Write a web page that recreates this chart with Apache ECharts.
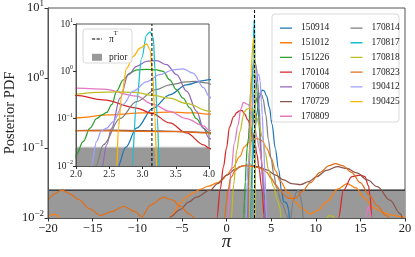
<!DOCTYPE html>
<html><head><meta charset="utf-8">
<script src="https://cdn.jsdelivr.net/npm/echarts@6/dist/echarts.min.js"></script>
<style>html,body{margin:0;padding:0;background:#fff}#c{width:415px;height:257px}</style>
</head><body><div id="c"></div>
<script>
// ---- data ----
const EVENTS = ['150914','151012','151226','170104','170608','170729','170809','170814','170817','170818','170823','190412','190425'];
const COLORS = ['#1f77b4','#ff7f0e','#2ca02c','#d62728','#9467bd','#8c564b','#e377c2','#7f7f7f','#17becf','#bcbd22','#e0701a','#9f9fff','#ffb300'];
const PI_TRUE = 3.14159;
const PRIOR_LEVEL = 0.025;
const PRIOR_RANGE = [-20, 20];
const MAIN_X = [-20, 20, 5];
const INSET_X = [2, 4, 0.5];
const Y_RANGE = [0.01, 10];

const pdf150914 = [[2.55,0.004],[2.62,0.009],[2.75,0.025],[2.91,0.063],[3.16,0.168],[3.41,0.32],[3.66,0.52],[3.92,0.64],[4.0,0.67],[4.2,0.66],[4.5,0.55],[4.8,0.38],[5.1,0.22],[5.46,0.1],[5.83,0.05],[6.2,0.023],[6.4,0.017],[6.6,0.0168],[6.77,0.016],[6.95,0.0135],[7.1,0.008],[7.2,0.004]];
const pdf151012 = [[-20,0.0102],[-19.6,0.0112],[-19.2,0.0113],[-18.8,0.0104],[-18.4,0.008],[-18.2,0.005],[-12,null],[-6.8,0.006],[-6.4,0.0095],[-6.0,0.0115],[-5.2,0.0163],[-4.5,0.02],[-3.7,0.0228],[-3.0,0.0257],[-2.0,0.0285],[-1.0,0.032],[-0.4,0.036],[0.0,0.041],[0.7,0.052],[1.5,0.076],[2.0,0.104],[2.5,0.12],[3.0,0.132],[3.4,0.137],[3.8,0.132],[4.0,0.125],[4.5,0.1],[5.0,0.072],[5.5,0.047],[6.0,0.034],[6.9,0.023],[7.7,0.017],[8.5,0.0135],[9.4,0.0115],[10.3,0.013],[11.2,0.017],[12.5,0.026],[13.5,0.031],[14.5,0.027],[15.5,0.019],[16.5,0.014],[17.5,0.012],[18.5,0.011],[19.5,0.0105],[20,0.0102]];
const pdf151226 = [[1.85,0.004],[1.95,0.011],[2.0,0.017],[2.11,0.033],[2.21,0.063],[2.31,0.1],[2.39,0.12],[2.46,0.135],[2.54,0.2],[2.61,0.38],[2.71,0.66],[2.81,0.92],[2.91,1.08],[3.06,1.1],[3.21,1.08],[3.31,1.0],[3.41,0.66],[3.51,0.41],[3.61,0.27],[3.71,0.17],[3.81,0.1],[3.92,0.063],[4.0,0.05],[4.2,0.024],[4.4,0.01],[4.5,0.004]];
const pdf170104 = [[-1.2,0.004],[-1.08,0.01],[-0.7,0.026],[-0.34,0.054],[0.0,0.1],[0.34,0.2],[0.8,0.28],[1.16,0.32],[1.45,0.34],[1.72,0.345],[2.0,0.31],[2.41,0.25],[2.91,0.168],[3.14,0.13],[3.41,0.081],[3.66,0.05],[3.92,0.028],[4.0,0.024],[4.2,0.011],[4.35,0.004],[8,null],[12.4,0.004],[12.55,0.01],[13.1,0.025],[14.05,0.039],[15.0,0.041],[15.5,0.039],[15.9,0.029],[16.1,0.02],[16.3,0.009],[16.4,0.004]];
const pdf170608 = [[2.3,0.003],[2.386,0.009],[2.461,0.028],[2.536,0.063],[2.662,0.27],[2.787,0.85],[2.912,1.27],[3.063,1.63],[3.213,1.68],[3.363,1.38],[3.514,0.85],[3.664,0.38],[3.815,0.143],[3.915,0.063],[4.0,0.039],[4.2,0.02],[4.4,0.008],[4.5,0.004]];
const pdf170729 = [[-6.5,0.006],[-6.3,0.0104],[-5.2,0.0132],[-4.2,0.017],[-3.4,0.0198],[-1.83,0.025],[-1.0,0.031],[0.04,0.041],[1.0,0.05],[1.9,0.056],[2.5,0.057],[3.0,0.056],[3.5,0.054],[4.0,0.051],[4.5,0.0487],[5.5,0.041],[6.4,0.035],[7.3,0.031],[8.3,0.03],[9.2,0.033],[10.1,0.039],[11.2,0.048],[12.4,0.054],[13.5,0.051],[14.6,0.044],[15.8,0.035],[16.9,0.028],[18.3,0.018],[19.5,0.0115],[19.8,0.009],[20,0.007]];
const pdf170809 = [[0.05,0.004],[0.15,0.01],[0.5,0.045],[0.9,0.12],[1.28,0.21],[1.6,0.36],[1.9,0.45],[2.0,0.44],[2.41,0.42],[2.91,0.3],[3.16,0.2],[3.41,0.143],[3.66,0.1],[3.92,0.07],[4.0,0.057],[4.3,0.025],[4.55,0.009],[4.7,0.004],[10,null],[15.4,0.004],[15.55,0.01],[15.9,0.0146],[16.2,0.011],[16.35,0.005]];
const pdf170814 = [[2.15,0.004],[2.3,0.01],[2.41,0.028],[2.66,0.1],[2.91,0.23],[3.2,0.41],[3.41,0.52],[3.66,0.6],[3.8,0.61],[3.95,0.57],[4.1,0.5],[4.4,0.3],[4.7,0.13],[5.0,0.07],[5.3,0.042],[5.6,0.027],[6.2,0.0163],[6.77,0.011],[6.9,0.0085],[7.1,0.0085],[7.5,0.018],[7.8,0.023],[8.07,0.025],[8.3,0.02],[8.45,0.016],[8.63,0.009],[8.7,0.004]];
const pdf170817 = [[2.78,0.003],[2.837,0.009],[2.912,0.23],[2.987,1.9],[3.063,5.9],[3.113,6.8],[3.163,5.1],[3.188,1.08],[3.223,0.103],[3.253,0.009],[3.28,0.003]];
const pdf170818 = [[0.45,0.004],[0.55,0.01],[0.8,0.03],[1.16,0.094],[1.5,0.17],[1.9,0.29],[2.0,0.33],[2.3,0.36],[2.6,0.37],[2.9,0.36],[3.16,0.31],[3.41,0.27],[3.66,0.21],[4.0,0.145],[4.35,0.085],[4.7,0.049],[5.27,0.028],[5.7,0.018],[6.0,0.0138],[6.1,0.01],[6.2,0.004],[8,null],[11.0,0.004],[11.2,0.0098],[11.5,0.0108],[11.9,0.0106],[12.2,0.0095],[12.3,0.004]];
const pdf170823 = [[-20,0.0178],[-19.3,0.022],[-18.44,0.025],[-17.5,0.022],[-16.6,0.0184],[-15.3,0.0135],[-14.15,0.0109],[-12.84,0.0123],[-11.54,0.0146],[-10.23,0.0123],[-9.48,0.0104],[-8.55,0.0152],[-7.06,0.0197],[-6.0,0.018],[-5.19,0.0146],[-4.2,0.0115],[-3.5,0.0098],[-3.3,0.005],[-2,null],[-0.35,0.005],[-0.22,0.01],[0.0,0.017],[0.15,0.0246],[0.5,0.038],[1.0,0.048],[1.46,0.054],[2.0,0.056],[2.5,0.055],[3.0,0.054],[3.5,0.053],[4.0,0.05],[4.5,0.045],[5.0,0.037],[5.5,0.03],[6.0,0.025],[6.5,0.021],[7.0,0.019],[7.7,0.019],[8.5,0.024],[9.4,0.032],[10.5,0.045],[11.5,0.056],[12.2,0.06],[13.0,0.056],[14.0,0.045],[15.0,0.032],[16.0,0.021],[16.9,0.015],[17.8,0.011],[18.5,0.0095],[19.0,0.007],[19.3,0.004]];
const pdf190412 = [[2.15,0.004],[2.23,0.01],[2.31,0.033],[2.38,0.055],[2.46,0.063],[2.56,0.087],[2.71,0.2],[2.86,0.38],[3.06,0.6],[3.26,0.85],[3.46,1.08],[3.61,1.13],[3.76,0.92],[3.92,0.45],[4.0,0.3],[4.15,0.12],[4.3,0.045],[4.45,0.013],[4.55,0.005]];
const pdf190425 = [[2.58,0.004],[2.612,0.009],[2.637,0.063],[2.687,0.32],[2.762,1.17],[2.862,2.08],[2.962,3.11],[3.063,3.78],[3.113,2.86],[3.153,0.85],[3.188,0.103],[3.213,0.009],[3.24,0.003]];

const PDFS = [pdf150914,pdf151012,pdf151226,pdf170104,pdf170608,pdf170729,pdf170809,pdf170814,pdf170817,pdf170818,pdf170823,pdf190412,pdf190425];

// ---- chart ----
const FONT = 'Liberation Serif';
const MINUS = '\u2212';
function numLabel(v){ return v < 0 ? MINUS + String(-v) : String(v); }
function powLabel(v){ const e = Math.round(Math.log10(v)); return '{b|10}{sup|' + (e < 0 ? MINUS + (-e) : e) + '}'; }

function richFor(size){
  return { b:{fontFamily:FONT, fontSize:size, lineHeight:size*1.4, color:'#222'},
           sup:{fontFamily:FONT, fontSize:Math.round(size*0.68), lineHeight:Math.round(size*0.68), verticalAlign:'top', color:'#222'} };
}

function curve(name, data, color, idx){
  return { type:'line', name, data, xAxisIndex:idx, yAxisIndex:idx, symbol:'none', showSymbol:false,
    smooth:0.35, smoothMonotone:'x', connectNulls:false, clip:true,
    lineStyle:{color, width:1.25}, itemStyle:{color}, z: idx ? 5 : 2, silent:true, animation:false };
}

const series = [];
[0,1].forEach(idx => {
  series.push({ type:'line', name:'prior', xAxisIndex:idx, yAxisIndex:idx, symbol:'none', clip:true,
    data: PRIOR_RANGE.map(x => [x, PRIOR_LEVEL]),
    lineStyle: idx ? {color:'#c8c8c8', width:1} : {color:'#1a1a1a', width:1.3},
    areaStyle:{color:'#999999', opacity:1, origin:'start'}, itemStyle:{color:'#999999'},
    z: idx ? 4 : 1, silent:true, animation:false });
  EVENTS.forEach((ev,i) => series.push(curve(ev, PDFS[i], COLORS[i], idx)));
  series.push({ type:'line', name:'πT', xAxisIndex:idx, yAxisIndex:idx, symbol:'none',
    data: Y_RANGE.map(y => [PI_TRUE, y]),
    lineStyle:{color:'#000', width:1, type:[3,2]}, itemStyle:{color:'#000'}, z: idx ? 5.5 : 2.5, silent:true, animation:false });
});

// legend icons: a short horizontal line (centred in a 12x14 box) and a dashed line
const LINE_ICON = 'path://M0,0h0.01v0.01h-0.01z M12,14h-0.01v-0.01h0.01z M0,6.4h12v1.3h-12z';
const DASH_ICON = 'path://M0,0h0.01v0.01h-0.01z M10,7h-0.01v-0.01h0.01z M0,3h3.2v1h-3.2z M4.6,3h3.2v1h-3.2z M9.2,3h0.8v1h-0.8z';

const axisBase = {
  axisLine:{show:true, onZero:false, lineStyle:{color:'#555'}},
  splitLine:{show:false},
  nameMoveOverlap:false
};

const chart = echarts.init(document.getElementById('c'), null, {renderer:'canvas'});
chart.setOption({
  animation:false,
  backgroundColor:'#fff',
  grid:[
    {left:48, top:8, right:10, bottom:39, show:true, borderColor:'#555', borderWidth:1, backgroundColor:'transparent', z:0, outerBoundsMode:'none', containLabel:false},
    {left:76, top:24, right:206, bottom:91, show:true, borderColor:'#555', borderWidth:1, backgroundColor:'#fff', z:3, outerBoundsMode:'none', containLabel:false}
  ],
  xAxis:[
    Object.assign({type:'value', gridIndex:0, min:MAIN_X[0], max:MAIN_X[1], interval:MAIN_X[2], z:3,
     axisTick:{show:true, length:3.5, lineStyle:{color:'#333'}},
     axisLabel:{formatter:numLabel, fontFamily:FONT, fontSize:12.5, color:'#222', margin:4},
     name:'π', nameLocation:'middle', nameGap:14,
     nameTextStyle:{fontFamily:FONT, fontSize:19, fontStyle:'italic', color:'#222'}}, axisBase),
    Object.assign({type:'value', gridIndex:1, min:INSET_X[0], max:INSET_X[1], interval:INSET_X[2], z:6,
     axisTick:{show:true, length:3, lineStyle:{color:'#333'}},
     axisLabel:{formatter:v => v.toFixed(1), fontFamily:FONT, fontSize:9.5, color:'#222', margin:3}}, axisBase)
  ],
  yAxis:[
    Object.assign({type:'log', logBase:10, gridIndex:0, min:Y_RANGE[0], max:Y_RANGE[1], z:3,
     axisTick:{show:true, length:3.5, lineStyle:{color:'#333'}},
     axisLabel:{formatter:powLabel, rich:richFor(12.5), margin:4},
     name:'Posterior PDF', nameLocation:'middle', nameGap:30,
     nameTextStyle:{fontFamily:FONT, fontSize:14.5, color:'#222'}}, axisBase),
    Object.assign({type:'log', logBase:10, gridIndex:1, min:Y_RANGE[0], max:Y_RANGE[1], z:6,
     axisTick:{show:true, length:3, lineStyle:{color:'#333'}},
     axisLabel:{formatter:powLabel, rich:richFor(9.5), margin:3}}, axisBase)
  ],
  legend:[
    {data:EVENTS.slice(0,7).map(n => ({name:n, icon:LINE_ICON})), orient:'vertical', left:275, top:16, itemWidth:12, itemHeight:14, itemGap:0.7,
     selectedMode:false, z:10, textStyle:{fontFamily:FONT, fontSize:9.4, color:'#222', lineHeight:14, padding:[0,0,0,4]}},
    {data:EVENTS.slice(7).map(n => ({name:n, icon:LINE_ICON})), orient:'vertical', left:345.5, top:16, itemWidth:12, itemHeight:14, itemGap:0.7,
     selectedMode:false, z:10, textStyle:{fontFamily:FONT, fontSize:9.4, color:'#222', lineHeight:14, padding:[0,0,0,4]}},
    {data:[{name:'πT', icon:DASH_ICON, itemStyle:{color:'#000'}}, {name:'prior', icon:'rect', itemStyle:{color:'#999999'}}], orient:'vertical', left:87, top:25,
     itemWidth:10, itemHeight:7, itemGap:0.3, selectedMode:false, z:10,
     formatter: n => n === 'πT' ? '{b|π}{sup|T}' : '{b|' + n + '}',
     textStyle:{fontFamily:FONT, fontSize:9.5, color:'#222', lineHeight:18, padding:[0,0,0,2],
       rich:{b:{fontFamily:FONT, fontSize:9.5, lineHeight:18, color:'#222'}, sup:{fontFamily:FONT, fontSize:6.5, lineHeight:14, verticalAlign:'top', color:'#222'}}}}
  ],
  graphic:[
    {type:'rect', shape:{x:272, y:14, width:127, height:108, r:3}, style:{fill:'rgba(255,255,255,0.85)', stroke:'#d9d9d9', lineWidth:1}, z:9, silent:true},
    {type:'rect', shape:{x:83, y:29, width:49, height:34, r:3}, style:{fill:'rgba(255,255,255,0.85)', stroke:'#d9d9d9', lineWidth:1}, z:9, silent:true}
  ],
  series
});
</script></body></html>
